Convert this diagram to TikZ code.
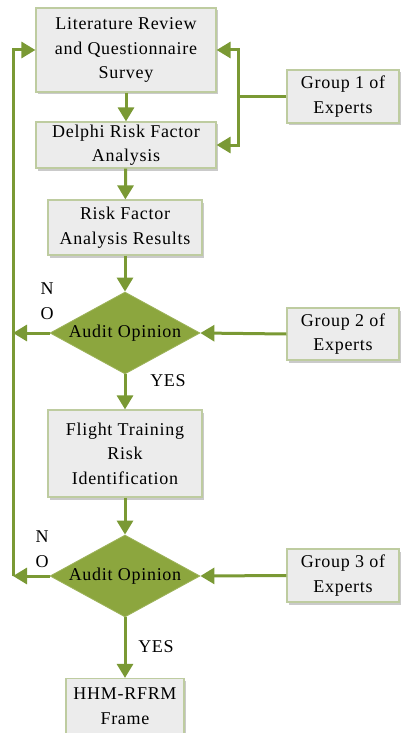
\documentclass[tikz,border=0pt]{standalone}
\usepackage{fontspec}
\setmainfont[LetterSpace=4]{Liberation Serif}
\usetikzlibrary{arrows.meta,shapes.geometric,shadows}
\definecolor{lineg}{RGB}{122,153,52}
\definecolor{diamg}{RGB}{140,166,62}
\definecolor{boxedge}{RGB}{190,204,160}
\definecolor{boxfill}{RGB}{236,236,236}
\begin{document}
\begin{tikzpicture}[x=1pt,y=-1pt,
  txt/.style={font=\fontsize{18}{24.5}\selectfont},
  box/.style={txt, draw=boxedge, line width=1.2pt, fill=boxfill, align=center,
    inner sep=0pt,
    drop shadow={shadow xshift=2pt, shadow yshift=-2.5pt, fill=black!35, opacity=0.6}},
  decision/.style={txt, diamond, aspect=1.83, fill=diamg, draw=diamg!85!white,
    line width=0.8pt, inner sep=0pt, minimum width=150pt, minimum height=82pt},
  flow/.style={draw=lineg, line width=3pt},
  arr/.style={flow, -{Triangle[length=14pt,width=16pt]}}]
\useasboundingbox (0,0) rectangle (400,733);

% main column of steps
\node[box, minimum width=180pt, minimum height=84pt] (rev) at (126,50)
  {Literature Review\\and Questionnaire\\Survey};
\node[box, minimum width=180pt, minimum height=46pt] (del) at (126,145)
  {Delphi Risk Factor\\Analysis};
\node[box, minimum width=154pt, minimum height=55pt] (res) at (125,227.5)
  {Risk Factor\\Analysis Results};
\node[decision] (d1) at (125,333) {Audit Opinion};
\node[box, minimum width=154pt, minimum height=87pt] (fly) at (125,453.5)
  {Flight Training\\Risk\\Identification};
\node[decision] (d2) at (125,576) {Audit Opinion};
\node[box, minimum width=118pt, minimum height=55pt] (hhm) at (125,706)
  {HHM-RFRM\\Frame};

% expert groups
\node[box, minimum width=112pt, minimum height=53pt] (g1) at (343,96.5)
  {Group 1 of\\Experts};
\node[box, minimum width=112pt, minimum height=52pt] (g2) at (343,334)
  {Group 2 of\\Experts};
\node[box, minimum width=112pt, minimum height=53pt] (g3) at (343,575.5)
  {Group 3 of\\Experts};

% downward flow
\draw[arr] (rev) -- (del);
\draw[arr] (del) -- (res);
\draw[arr] (res) -- (d1.north);
\draw[arr] (d1.south) -- (fly);
\draw[arr] (fly) -- (d2.north);
\draw[arr] (d2.south) -- (hhm);

% expert inputs
\coordinate (r1) at (238,96.5);
\draw[flow] (g1.west) -- (r1);
\draw[arr] (r1) |- (rev.east);
\draw[arr] (r1) |- (del.east);
\draw[arr] (g2.west) -- (d1.east);
\draw[arr] (g3.west) -- (d2.east);

% feedback loop on the left
\coordinate (l1) at (13,333);
\coordinate (l2) at (13,576);
\draw[arr] (d1.west) -- (l1);
\draw[arr] (d2.west) -- (l2);
\draw[arr] (l2) |- (rev.west);

% branch labels
\node[txt] (n1) at (47,289) {N};
\node[txt] (o1) at (47,314) {O};
\node[txt] (y1) at (168,381) {YES};
\node[txt] (n2) at (42,537) {N};
\node[txt] (o2) at (42,562) {O};
\node[txt] (y2) at (156,647) {YES};
\end{tikzpicture}
\end{document}
